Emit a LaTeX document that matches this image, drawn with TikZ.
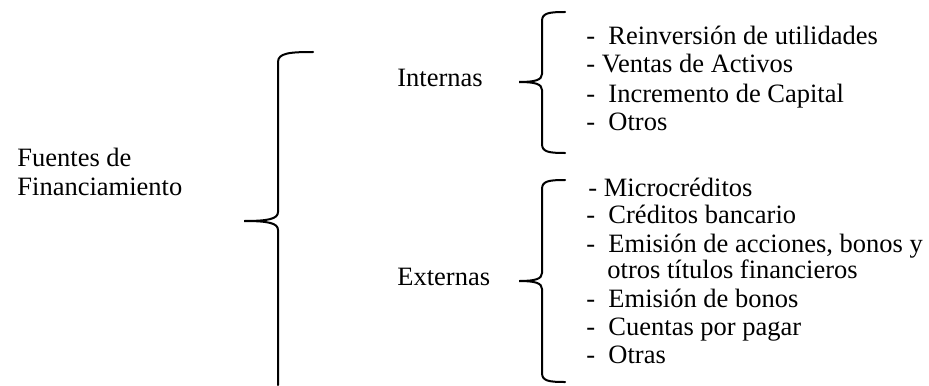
\documentclass[tikz,border=0pt]{standalone}
\usepackage{fontspec}
\setmainfont{Liberation Serif}
\tikzset{
  llave/.style={line width=1pt, line cap=round},
  rotulo/.style={anchor=base west, inner sep=0pt, font=\fontsize{13.25}{14.3}\selectfont}
}

\begin{document}
\begin{tikzpicture}[x=0.5pt, y=-0.5pt]
  \useasboundingbox (0,0) rectangle (929,385);
  % rotulos
  \node[rotulo] (fuentes) at (17,166) {Fuentes de};
  \node[rotulo] (financ) at (17,195) {Financiamiento};
  \node[rotulo] (internas) at (397,86) {Internas};
  \node[rotulo] (externas) at (397,285) {Externas};
  % internas
  \node[rotulo] (int1) at (586,45) {-~ Reinversión de utilidades};
  \node[rotulo] (int2) at (586,73) {- Ventas de Activos};
  \node[rotulo] (int3) at (586,102) {-~ Incremento de Capital};
  \node[rotulo] (int4) at (586,130) {-~ Otros};
  % externas
  \node[rotulo] (ext1) at (588,196) {- Microcréditos};
  \node[rotulo] (ext2) at (586,223) {-~ Créditos bancario};
  \node[rotulo] (ext3) at (586,252) {-~ Emisión de acciones, bonos y};
  \node[rotulo] (ext3b) at (607,278) {otros títulos financieros};
  \node[rotulo] (ext4) at (586,307) {-~ Emisión de bonos};
  \node[rotulo] (ext5) at (586,335) {-~ Cuentas por pagar};
  \node[rotulo] (ext6) at (586,363) {-~ Otras};
  % llaves
  \draw[llave] (313,52) .. controls (290,52) and (278,53) .. (278,62) -- (278,212)
    .. controls (278,219) and (268,221) .. (244,221)
    .. controls (268,221) and (278,223) .. (278,230) -- (278,385);
  \draw[llave] (565,12) .. controls (549,12) and (542,13) .. (542,21) -- (542,74)
    .. controls (542,80) and (535,82) .. (519,82)
    .. controls (535,82) and (542,84) .. (542,90) -- (542,144)
    .. controls (542,152) and (549,153) .. (565,153);
  \draw[llave] (565,180) .. controls (549,180) and (542,181) .. (542,189) -- (542,273)
    .. controls (542,279) and (535,281) .. (519,281)
    .. controls (535,281) and (542,283) .. (542,289) -- (542,373)
    .. controls (542,381) and (549,382) .. (565,382);
\end{tikzpicture}
\end{document}
